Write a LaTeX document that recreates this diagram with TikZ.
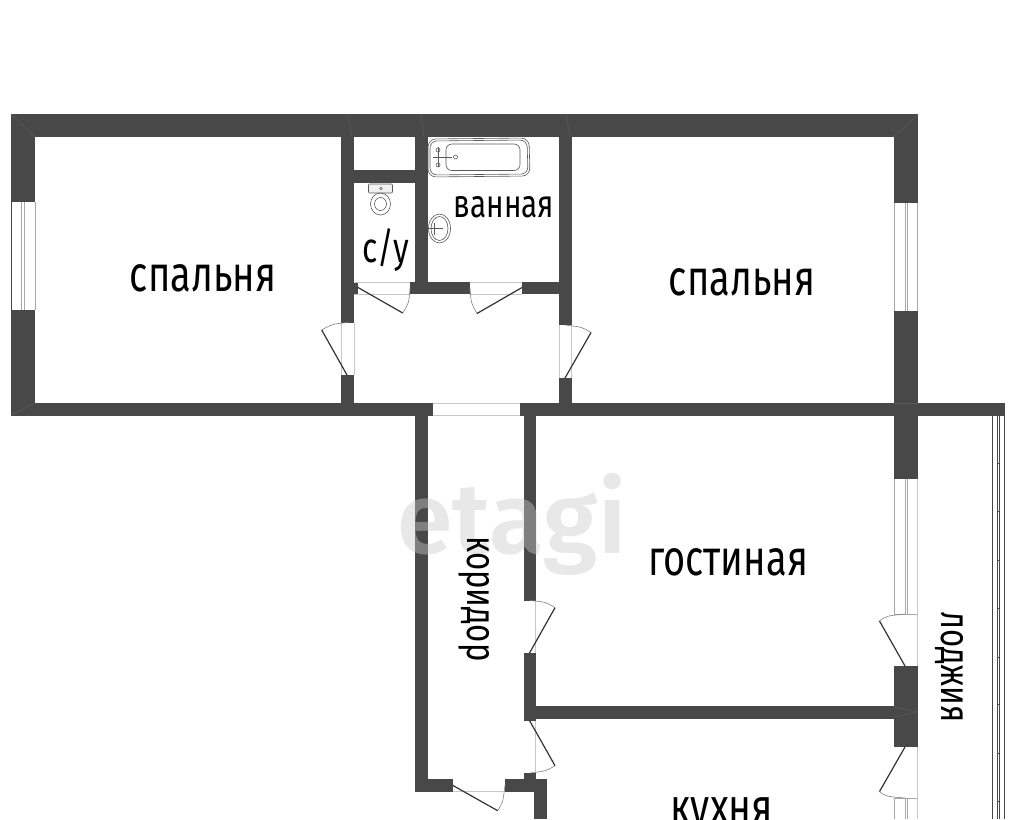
\documentclass[tikz,border=0pt]{standalone}
\usepackage{fontspec}
\setmainfont[FakeStretch=0.76]{Fira Sans}
\newfontfamily\markfont[FakeStretch=1.0]{Fira Sans SemiBold}
\definecolor{wallc}{HTML}{484848}
\definecolor{seamc}{HTML}{5C5C5C}
\definecolor{glassc}{HTML}{A8A8A8}
\definecolor{markc}{HTML}{C9C9C9}
\tikzstyle{wall} = [fill=wallc, draw=none]
\tikzstyle{seam} = [draw=seamc, line width=0.5pt]
\tikzstyle{pane} = [draw=glassc, line width=1pt]
\tikzstyle{frame} = [draw=wallc, line width=0.9pt]
\tikzstyle{jamb} = [draw=black!22, line width=0.7pt]
\tikzstyle{leaf} = [draw=black!80, line width=1.2pt]
\tikzstyle{swing} = [draw=black!50, line width=0.6pt]
\tikzstyle{fixture} = [draw=black!65, line width=0.6pt]
\tikzstyle{room} = [inner sep=0pt, font=\fontsize{50}{50}\selectfont]
\tikzstyle{smallroom} = [inner sep=0pt, font=\fontsize{41}{41}\selectfont]

\begin{document}
\begin{tikzpicture}[x=1pt,y=-1pt]
			\useasboundingbox (0,0) rectangle (1024,819);
			\clip (0,0) rectangle (1024,819);
			%outer walls
			\fill [wall] (11,114) rectangle (918,137);
			\fill [wall] (11,114) rectangle (35,202);
			\fill [wall] (11,310) rectangle (35,415);
			\fill [wall] (894,114) rectangle (918,203);
			\fill [wall] (894,311) rectangle (918,479);
			\fill [wall] (894,666) rectangle (918,747);
			\fill [wall] (11,403) rectangle (432.5,415.5);
			\fill [wall] (519.5,403) rectangle (1004.5,415.5);
			%bedroom and bath partitions
			\fill [wall] (341,137) rectangle (354,322.5);
			\fill [wall] (341,375) rectangle (354,403);
			\fill [wall] (559,137) rectangle (571.5,325);
			\fill [wall] (559,378) rectangle (571.5,403);
			\fill [wall] (415,137) rectangle (428,282);
			\fill [wall] (354,170) rectangle (415,182.5);
			\fill [wall] (354,282) rectangle (358,294);
			\fill [wall] (410,282) rectangle (470,294);
			\fill [wall] (522,282) rectangle (559,294);
			%corridor walls
			\fill [wall] (415,415) rectangle (428,791.5);
			\fill [wall] (415,779) rectangle (453,791.5);
			\fill [wall] (505,779) rectangle (547,791.5);
			\fill [wall] (534,779) rectangle (547,819);
			\fill [wall] (523.5,415) rectangle (536,600.5);
			\fill [wall] (523.5,653) rectangle (536,720.5);
			\fill [wall] (523.5,773) rectangle (536,779);
			\fill [wall] (536,706) rectangle (894,718.5);
			%seams inside the walls
			\draw [seam] (11,114) -- (35,137);
			\draw [seam] (11,415) -- (35,403);
			\draw [seam] (918,114) -- (894,137);
			\draw [seam] (348,114) -- (352,137);
			\draw [seam] (421,114) -- (424,137);
			\draw [seam] (566,114) -- (570,137);
			\draw [seam] (894,403) -- (918,403);
			\draw [seam] (918,712) -- (894,707);
			\draw [seam] (918,712) -- (894,717);
			%windows
			\draw [frame] (11.5,202) -- (11.5,310);
			\draw [pane] (35,202) -- (35,310);
			\draw [pane] (21.5,202) -- (21.5,310);
			\draw [pane] (24,202) -- (24,310);
			\draw [pane] (894,203) -- (894,311);
			\draw [pane] (905,203) -- (905,311);
			\draw [pane] (907.5,203) -- (907.5,311);
			\draw [pane] (917.5,203) -- (917.5,311);
			\draw [pane] (894,479) -- (894,614) -- (918,614);
			\draw [pane] (905,479) -- (905,614);
			\draw [pane] (907.5,479) -- (907.5,614);
			\draw [jamb] (917.5,479) -- (917.5,666);
			\draw [pane] (894,819) -- (894,798) -- (918,798);
			\draw [pane] (905,798) -- (905,819);
			\draw [pane] (907.5,798) -- (907.5,819);
			\draw [jamb] (917.5,747) -- (917.5,819);
			\draw [jamb] (432.5,403.5) -- (519.5,403.5);
			\draw [jamb] (432.5,415) -- (519.5,415);
			%loggia glazing
			\draw [frame] (992.7,415) -- (992.7,819);
			\draw [frame] (997.7,415) -- (997.7,819);
			\draw [frame] (999.4,415) -- (999.4,819);
			\draw [frame] (1004.2,415) -- (1004.2,819);
			\foreach \y in {463,511,560,608,657,704,753,801}
				\draw [frame] (997,\y) -- (1000.2,\y);
			%doors
			\draw [jamb] (341.5,322.5) -- (341.5,375);
			\draw [jamb] (354,322.5) -- (354,375);
			\draw [swing] (321.7,330) .. controls (332,324) .. (348,322.5);
			\draw [leaf] (347,375) -- (321.7,330);
			\draw [jamb] (559,325) -- (559,378);
			\draw [jamb] (571.5,325) -- (571.5,378);
			\draw [swing] (591,332.5) .. controls (582,327) .. (565,325);
			\draw [leaf] (565,378) -- (591,332.5);
			\draw [jamb] (354,282) -- (410,282);
			\draw [jamb] (354,294) -- (410,294);
			\draw [swing] (402.7,313) .. controls (409,303) .. (410,288);
			\draw [leaf] (358,287.5) -- (402.7,313);
			\draw [jamb] (470,282) -- (522,282);
			\draw [jamb] (470,294) -- (522,294);
			\draw [swing] (477,313.5) .. controls (471,303) .. (470,288);
			\draw [leaf] (522,287.5) -- (477,313.5);
			\draw [jamb] (535.7,600.5) -- (535.7,653);
			\draw [swing] (555,607.7) .. controls (546,602) .. (530,600.5);
			\draw [leaf] (529.5,653) -- (555,607.7);
			\draw [jamb] (535.7,720.5) -- (535.7,773);
			\draw [swing] (555,765.7) .. controls (546,771) .. (530,773);
			\draw [leaf] (529.5,720.5) -- (555,765.7);
			\draw [jamb] (453,791) -- (505,791);
			\draw [swing] (497.7,810.7) .. controls (503,802) .. (505,785);
			\draw [leaf] (453,785.5) -- (497.7,810.7);
			\draw [swing] (879.5,621) .. controls (886,616) .. (905,614);
			\draw [leaf] (905,666) -- (879.5,621);
			\draw [swing] (879.5,791.5) .. controls (886,796.5) .. (905,798);
			\draw [leaf] (905,747) -- (879.5,791.5);
			%bath
			\draw [fixture, rounded corners=8pt] (428,139) -- (529,138) -- (530,176) -- (428,177) -- cycle;
			\draw [fixture, rounded corners=7pt] (430,141) -- (527,140) -- (528,174) -- (430,175) -- cycle;
			\draw [fixture, rounded corners=6pt] (446,144) -- (520,144) -- (520,170.5) -- (446,170.5) -- cycle;
			\draw [fixture] (438,147) -- (438,167) (433,157) -- (452,157);
			\draw [fixture] (438,150) circle (2);
			\draw [fixture] (438,165) circle (2);
			\draw [fixture] (455.5,157) circle (2);
			%sink
			\draw [fixture] (439.5,228.5) ellipse (11 and 14.5);
			\draw [fixture] (439.5,228.5) ellipse (8.5 and 12);
			\draw [fixture] (434,223) -- (434,235) (429,228.5) -- (443,228.5);
			%toilet
			\draw [fixture, fill=black!6, rounded corners=1pt] (368.5,184) rectangle (392.5,193);
			\draw [fixture] (381,188.5) circle (1.2);
			\draw [fixture] (380.5,204) ellipse (10 and 11);
			\draw [fixture] (380.5,204) ellipse (6 and 6.5);
			%watermark
			\node (mark) [inner sep=0pt, anchor=base, text=markc, text opacity=0.43] at (512,553) {\fontsize{100}{100}\selectfont\markfont etagi};
			%room labels
			\node (bed1) [room] at (203,278) {спальня};
			\node (bed2) [room] at (742,282) {спальня};
			\node (living) [room] at (728,562) {гостиная};
			\node (kitchen) [room, anchor=base, font=\fontsize{51}{51}\selectfont] at (722,824) {кухня};
			\node (bath) [smallroom, font=\fontsize{39}{39}\selectfont] at (504,207) {ванная};
			\node (wc) [smallroom, font=\fontsize{42}{42}\selectfont] at (386,250) {с/у};
			\node (hall) [smallroom, rotate=-90] at (474,599) {коридор};
			\node (loggia) [smallroom, rotate=-90] at (949,667) {лоджия};
		\end{tikzpicture}
\end{document}
